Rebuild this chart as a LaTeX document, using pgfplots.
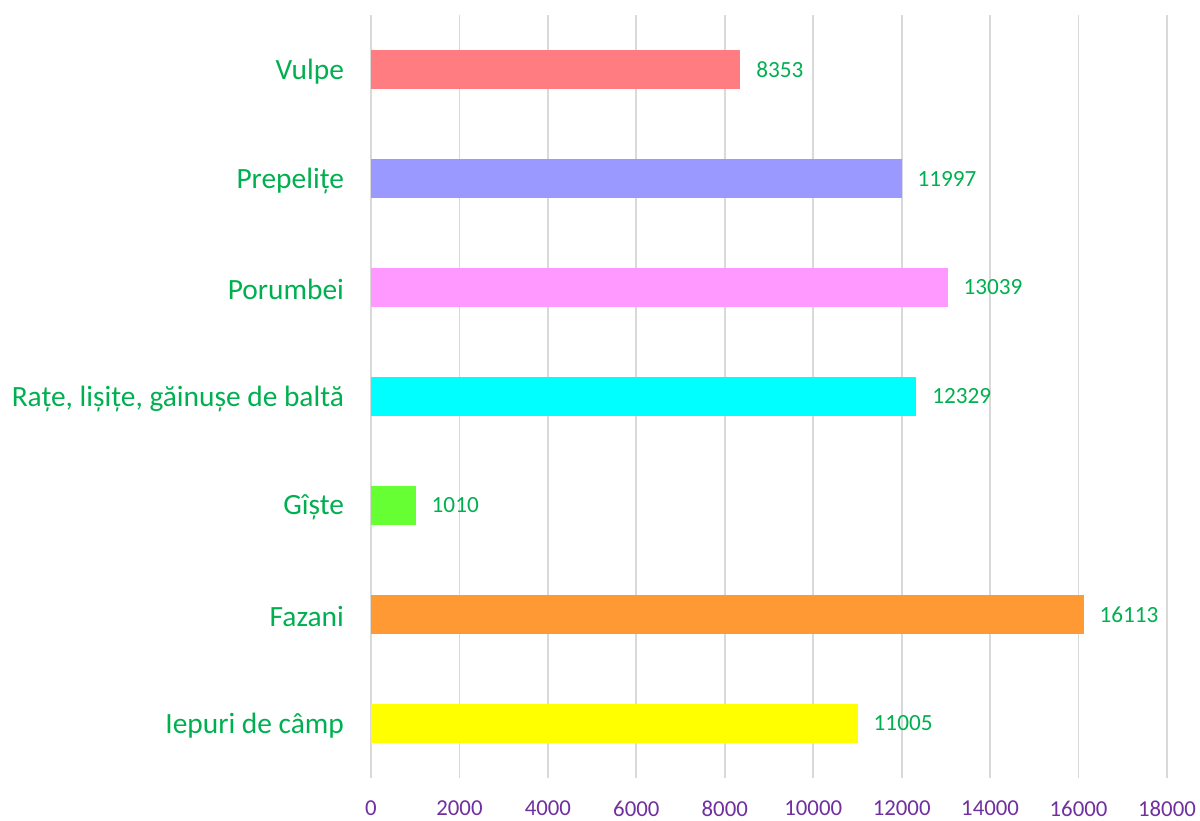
\documentclass[border=0pt]{standalone}
\usepackage{pgfplots}
\pgfplotsset{compat=1.18}
\usepackage{fontspec}
\setmainfont{Carlito}
\definecolor{cVulpe}{HTML}{FF7C80}
\definecolor{cPrep}{HTML}{9999FF}
\definecolor{cPor}{HTML}{FF99FF}
\definecolor{cRate}{HTML}{00FFFF}
\definecolor{cGiste}{HTML}{66FF33}
\definecolor{cFaz}{HTML}{FF9933}
\definecolor{cIep}{HTML}{FFFF00}
\definecolor{tgreen}{HTML}{00B050}
\definecolor{tpurple}{HTML}{7030A0}
\definecolor{gridc}{HTML}{D9D9D9}
\begin{document}
\begin{tikzpicture}
\begin{axis}[
  scale only axis,
  width=398pt, height=381.5pt,
  xbar, bar width=19.35pt, bar shift=0pt,
  xmin=0, xmax=18000, ymin=-0.5, ymax=6.5,
  xtick={0,2000,...,18000},
  ytick={0,1,2,3,4,5,6},
  yticklabels={Iepuri de câmp, Fazani, Gîște, {Rațe, lișițe, găinușe de baltă}, Porumbei, Prepelițe, Vulpe},
  axis line style={draw=none},
  major tick length=0pt,
  xmajorgrids, grid style={draw=gridc, line width=0.9pt},
  scaled x ticks=false,
  /pgf/number format/assume math mode=true,
  /pgf/number format/1000 sep={},
  xticklabel style={font=\fontsize{11.4}{13}\selectfont, text=tpurple, yshift=-8pt},
  yticklabel style={font=\fontsize{14.7}{16}\selectfont, text=tgreen, xshift=-10pt, yshift=-1pt},
  nodes near coords,
  nodes near coords style={font=\fontsize{11.6}{13}\selectfont, text=tgreen, xshift=4.5pt, /pgf/number format/fixed, /pgf/number format/precision=0, /pgf/number format/1000 sep={}},
  every axis plot/.append style={draw=none},
  clip=false,
]
\addplot[fill=cIep] coordinates {(11005,0)};
\addplot[fill=cFaz] coordinates {(16113,1)};
\addplot[fill=cGiste] coordinates {(1010,2)};
\addplot[fill=cRate] coordinates {(12329,3)};
\addplot[fill=cPor] coordinates {(13039,4)};
\addplot[fill=cPrep] coordinates {(11997,5)};
\addplot[fill=cVulpe] coordinates {(8353,6)};
\end{axis}
\pgfresetboundingbox
\path[use as bounding box] ([shift={(-185.5pt,-21pt)}]current axis.south west) rectangle ([shift={(16.5pt,7.5pt)}]current axis.north east);
\end{tikzpicture}
\end{document}
